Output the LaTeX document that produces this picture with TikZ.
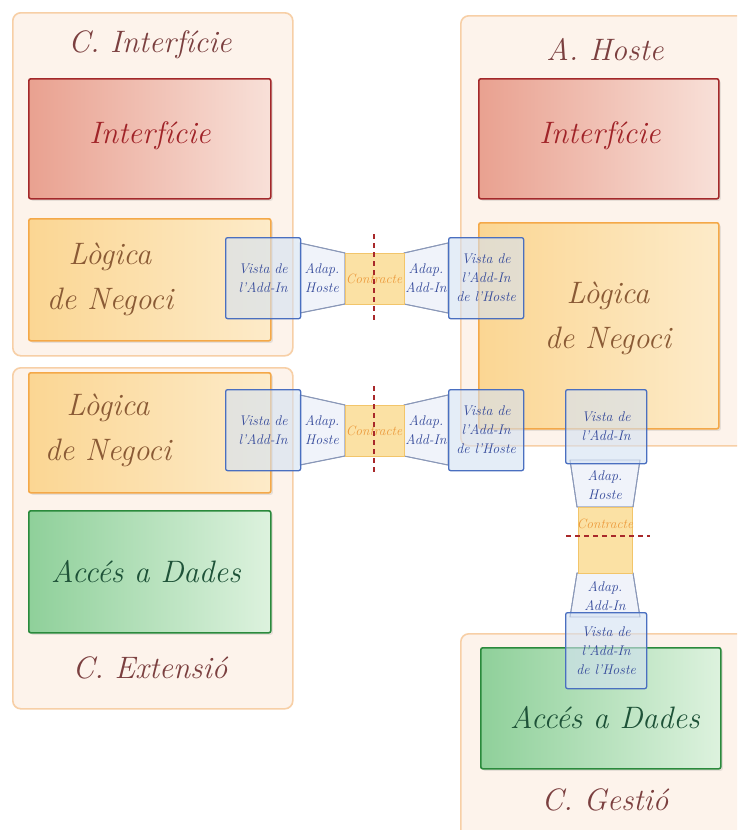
\documentclass[tikz,border=0pt]{standalone}
\usepackage{tikz}
\usetikzlibrary{shadows}

\definecolor{contFill}{HTML}{FDF3EB}
\definecolor{contDraw}{HTML}{F7CFA6}
\definecolor{titleCol}{HTML}{7B3F3F}
\definecolor{redDraw}{HTML}{A3282A}
\definecolor{redA}{HTML}{E9A190}
\definecolor{redB}{HTML}{F8E0D8}
\definecolor{redText}{HTML}{A02328}
\definecolor{orDraw}{HTML}{F4A848}
\definecolor{orA}{HTML}{FBD693}
\definecolor{orB}{HTML}{FDEBC9}
\definecolor{orText}{HTML}{8A5A35}
\definecolor{grDraw}{HTML}{2A8A3C}
\definecolor{grA}{HTML}{8FD09A}
\definecolor{grB}{HTML}{DDF2DE}
\definecolor{grText}{HTML}{1E5238}
\definecolor{blDraw}{HTML}{4A6FC0}
\definecolor{blFill}{HTML}{D3E1F3}
\definecolor{blText}{HTML}{34499A}
\definecolor{adDraw}{HTML}{8A98B8}
\definecolor{adFill}{HTML}{EEF2FA}
\definecolor{ctFill}{HTML}{FBE1A4}
\definecolor{ctDraw}{HTML}{F2C56A}
\definecolor{ctText}{HTML}{EC9A3C}
\definecolor{cutCol}{HTML}{A8282A}

\tikzset{
  container/.style={draw=contDraw, fill=contFill, line width=1.6pt,
    rounded corners=8pt, anchor=north west, inner sep=0pt},
  layerbox/.style={anchor=north west, line width=1.6pt, rounded corners=2pt,
    inner sep=0pt,
    drop shadow={opacity=0.18, shadow xshift=2pt, shadow yshift=-2pt}},
  uibox/.style={layerbox, draw=redDraw, left color=redA, right color=redB},
  logicbox/.style={layerbox, draw=orDraw, left color=orA, right color=orB},
  databox/.style={layerbox, draw=grDraw, left color=grA, right color=grB},
  title/.style={font=\itshape\fontsize{31}{36}\selectfont, text=titleCol},
  bigtext/.style={font=\itshape\fontsize{31}{45}\selectfont, align=center},
  viewbox/.style={draw=blDraw, line width=1.3pt, fill=blFill, fill opacity=0.6,
    text opacity=1, rounded corners=2pt, anchor=north west, inner sep=0pt,
    align=center, text=blText, font=\itshape\fontsize{14}{19}\selectfont},
  adapter/.style={draw=adDraw, line width=0.9pt, fill=adFill, fill opacity=0.85},
  adaptext/.style={align=center, text=blText, font=\itshape\fontsize{14}{19}\selectfont},
  contract/.style={draw=ctDraw, line width=0.9pt, fill=ctFill, anchor=north west,
    inner sep=0pt},
  contracttext/.style={text=ctText, inner sep=0pt, font=\itshape\fontsize{13.5}{15}\selectfont},
  cut/.style={draw=cutCol, line width=1.1pt, dash pattern=on 5pt off 4pt}
}

\begin{document}
\begin{tikzpicture}[x=1pt,y=-1pt]
\clip (0,0) rectangle (737,830);
\fill[white] (0,0) rectangle (737,830);

% ---------- containers ----------
\node[container, minimum width=280, minimum height=343] (cint) at (12,12) {};
\node[container, minimum width=280, minimum height=341] (cext) at (12,367) {};
\node[container, minimum width=300, minimum height=430] (host) at (460,15) {};
\node[container, minimum width=300, minimum height=220] (cges) at (460,633) {};

\node[title] (tint) at (150,45) {C. Interfície};
\node[title] (text) at (150,668) {C. Extensió};
\node[title] (thost) at (605,50) {A. Hoste};
\node[title] (tges) at (605,800) {C. Gestió};

% ---------- layers ----------
\node[uibox, minimum width=242, minimum height=120] (ui1) at (28,78) {};
\node[bigtext, text=redText] at (150,136) {Interfície};
\node[logicbox, minimum width=242, minimum height=122] (lg1) at (28,218) {};
\node[bigtext, text=orText] at (110,279) {Lògica\\de Negoci};

\node[logicbox, minimum width=242, minimum height=120] (lg2) at (28,372) {};
\node[bigtext, text=orText] at (108,430) {Lògica\\de Negoci};
\node[databox, minimum width=242, minimum height=122] (da1) at (28,510) {};
\node[bigtext, text=grText] at (146,572) {Accés a Dades};

\node[uibox, minimum width=240, minimum height=120] (ui2) at (478,78) {};
\node[bigtext, text=redText] at (600,136) {Interfície};
\node[logicbox, minimum width=240, minimum height=206] (lg3) at (478,222) {};
\node[bigtext, text=orText] at (608,318) {Lògica\\de Negoci};

\node[databox, minimum width=240, minimum height=121] (da2) at (480,647) {};
\node[bigtext, text=grText] at (605,718) {Accés a Dades};

% ---------- horizontal pipeline (upper) ----------
\fill[adapter] (300,243) -- (345,253) -- (345,304) -- (300,313) -- cycle;
\fill[adapter] (404,253) -- (448,243) -- (448,313) -- (404,304) -- cycle;
\draw[adapter, fill=none] (300,243) -- (345,253) -- (345,304) -- (300,313);
\draw[adapter, fill=none] (448,243) -- (404,253) -- (404,304) -- (448,313);
\node[contract, minimum width=59, minimum height=51] (ct1) at (345,253) {};
\node[contracttext] at (374,279) {Contracte};
\draw[cut] (374,234) -- (374,321);
\node[adaptext] (ah1) at (322,278) {Adap.\\Hoste};
\node[adaptext] (aa1) at (426,278) {Adap.\\Add-In};
\node[viewbox, minimum width=75, minimum height=81] (v1) at (225,237) {Vista de\\l'Add-In};
\node[viewbox, minimum width=75, minimum height=81] (vh1) at (448,237) {Vista de\\l'Add-In\\de l'Hoste};

% ---------- horizontal pipeline (lower) ----------
\fill[adapter] (300,395) -- (345,405) -- (345,456) -- (300,465) -- cycle;
\fill[adapter] (404,405) -- (448,395) -- (448,465) -- (404,456) -- cycle;
\draw[adapter, fill=none] (300,395) -- (345,405) -- (345,456) -- (300,465);
\draw[adapter, fill=none] (448,395) -- (404,405) -- (404,456) -- (448,465);
\node[contract, minimum width=59, minimum height=51] (ct2) at (345,405) {};
\node[contracttext] at (374,431) {Contracte};
\draw[cut] (374,386) -- (374,473);
\node[adaptext] (ah2) at (322,430) {Adap.\\Hoste};
\node[adaptext] (aa2) at (426,430) {Adap.\\Add-In};
\node[viewbox, minimum width=75, minimum height=81] (v2) at (225,389) {Vista de\\l'Add-In};
\node[viewbox, minimum width=75, minimum height=81] (vh2) at (448,389) {Vista de\\l'Add-In\\de l'Hoste};

% ---------- vertical pipeline ----------
\fill[adapter] (570,460) -- (640,460) -- (633,507) -- (577,507) -- cycle;
\fill[adapter] (577,573) -- (633,573) -- (640,617) -- (570,617) -- cycle;
\draw[adapter, fill=none] (570,460) -- (577,507) -- (633,507) -- (640,460);
\draw[adapter, fill=none] (570,617) -- (577,573) -- (633,573) -- (640,617);
\node[contract, minimum width=54, minimum height=66] (ct3) at (578,507) {};
\node[contracttext] at (605,524) {Contracte};
\draw[cut] (566,536) -- (650,536);
\node[adaptext] (ah3) at (605,485) {Adap.\\Hoste};
\node[adaptext] (aa3) at (605,596) {Adap.\\Add-In};
\node[viewbox, minimum width=81, minimum height=74] (v3) at (565,389) {Vista de\\l'Add-In};
\node[viewbox, minimum width=81, minimum height=76] (vh3) at (565,612) {Vista de\\l'Add-In\\de l'Hoste};

\end{tikzpicture}
\end{document}
